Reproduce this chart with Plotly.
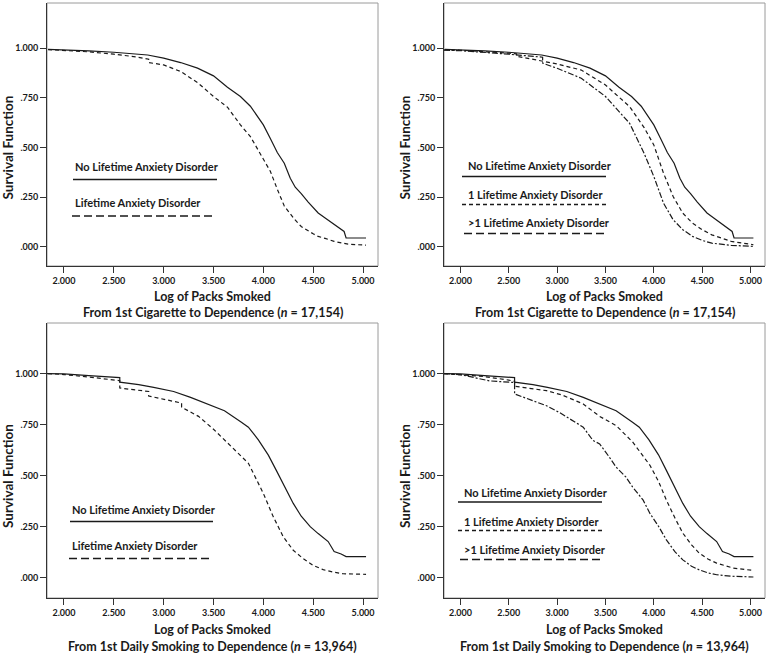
import plotly.graph_objects as go

# ---------------- data ----------------
X_TICKS = [2.0, 2.5, 3.0, 3.5, 4.0, 4.5, 5.0]
X_LABELS = ["2.000", "2.500", "3.000", "3.500", "4.000", "4.500", "5.000"]
Y_TICKS = [0.0, 0.25, 0.5, 0.75, 1.0]
Y_LABELS = [".000", ".250", ".500", ".750", "1.000"]

# Panel 1: from 1st cigarette, two groups
P1_none_x = [1.84, 2.0, 2.25, 2.5, 2.75, 2.84, 3.0, 3.17, 3.34, 3.5, 3.64, 3.77, 3.87, 4.0, 4.07, 4.14, 4.21, 4.27, 4.32, 4.38, 4.45, 4.55, 4.62, 4.71, 4.81, 4.83, 5.03]
P1_none_y = [0.994, 0.992, 0.987, 0.980, 0.970, 0.966, 0.950, 0.928, 0.900, 0.861, 0.804, 0.757, 0.708, 0.614, 0.545, 0.475, 0.421, 0.345, 0.300, 0.268, 0.225, 0.170, 0.145, 0.111, 0.077, 0.044, 0.044]
P1_anx_x = [1.84, 2.0, 2.25, 2.5, 2.7, 2.85, 2.85, 3.0, 3.17, 3.34, 3.5, 3.64, 3.77, 3.87, 4.0, 4.07, 4.14, 4.21, 4.31, 4.38, 4.5, 4.55, 4.62, 4.71, 4.85, 5.03]
P1_anx_y = [0.993, 0.988, 0.982, 0.970, 0.958, 0.945, 0.928, 0.916, 0.883, 0.827, 0.757, 0.703, 0.614, 0.555, 0.440, 0.380, 0.290, 0.205, 0.140, 0.102, 0.065, 0.052, 0.042, 0.027, 0.013, 0.008]

# Panel 2: from 1st cigarette, three groups
P2_none_x = P1_none_x
P2_none_y = P1_none_y
P2_one_x = [1.83, 2.0, 2.5, 2.58, 2.58, 2.75, 3.0, 3.25, 3.5, 3.75, 3.9, 4.0, 4.1, 4.2, 4.3, 4.4, 4.5, 4.6, 4.7, 4.8, 5.03]
P2_one_y = [0.992, 0.990, 0.975, 0.972, 0.960, 0.945, 0.921, 0.890, 0.815, 0.706, 0.600, 0.513, 0.371, 0.253, 0.169, 0.119, 0.086, 0.060, 0.044, 0.027, 0.010]
P2_multi_x = [1.83, 2.0, 2.5, 2.85, 2.85, 3.0, 3.25, 3.5, 3.75, 3.9, 4.0, 4.1, 4.2, 4.3, 4.4, 4.5, 4.6, 4.8, 5.03]
P2_multi_y = [0.990, 0.988, 0.970, 0.955, 0.925, 0.899, 0.849, 0.757, 0.622, 0.470, 0.354, 0.220, 0.136, 0.086, 0.052, 0.032, 0.018, 0.007, 0.002]

# Panel 4: from 1st daily smoking, three groups
P4_none_x = [1.83, 2.0, 2.25, 2.5, 2.56, 2.56, 2.75, 2.9, 3.1, 3.27, 3.45, 3.61, 3.78, 3.85, 3.95, 4.05, 4.13, 4.22, 4.30, 4.38, 4.47, 4.55, 4.65, 4.71, 4.78, 4.83, 5.03]
P4_none_y = [1.0, 0.998, 0.990, 0.982, 0.980, 0.958, 0.946, 0.932, 0.912, 0.883, 0.850, 0.818, 0.761, 0.737, 0.675, 0.600, 0.525, 0.440, 0.363, 0.300, 0.249, 0.215, 0.176, 0.127, 0.115, 0.102, 0.102]
P4_one_x = [1.83, 2.0, 2.25, 2.5, 2.56, 2.56, 2.75, 2.89, 3.05, 3.27, 3.44, 3.61, 3.78, 3.87, 3.96, 4.05, 4.13, 4.22, 4.30, 4.39, 4.47, 4.56, 4.65, 4.82, 5.03]
P4_one_y = [1.0, 0.995, 0.985, 0.968, 0.962, 0.938, 0.925, 0.916, 0.895, 0.851, 0.790, 0.745, 0.665, 0.610, 0.550, 0.470, 0.379, 0.290, 0.217, 0.160, 0.119, 0.090, 0.070, 0.046, 0.034]
P4_multi_x = [1.83, 2.0, 2.3, 2.5, 2.56, 2.56, 2.75, 2.89, 3.02, 3.27, 3.37, 3.44, 3.54, 3.61, 3.71, 3.78, 3.89, 3.96, 4.05, 4.13, 4.22, 4.30, 4.39, 4.47, 4.56, 4.65, 4.8, 5.03]
P4_multi_y = [1.0, 0.995, 0.964, 0.958, 0.956, 0.900, 0.867, 0.842, 0.810, 0.737, 0.672, 0.655, 0.590, 0.541, 0.493, 0.444, 0.379, 0.314, 0.250, 0.184, 0.125, 0.086, 0.055, 0.037, 0.022, 0.013, 0.006, 0.002]

# Panel 3: from 1st daily smoking, two groups
P3_none_x = P4_none_x
P3_none_y = P4_none_y
P3_anx_x = [1.84, 2.0, 2.25, 2.5, 2.56, 2.56, 2.75, 2.85, 2.85, 3.0, 3.18, 3.18, 3.35, 3.5, 3.75, 3.85, 4.0, 4.1, 4.2, 4.3, 4.4, 4.5, 4.6, 4.7, 4.8, 5.03]
P3_anx_y = [1.0, 0.995, 0.983, 0.968, 0.965, 0.929, 0.918, 0.912, 0.890, 0.874, 0.855, 0.835, 0.790, 0.727, 0.609, 0.560, 0.412, 0.297, 0.199, 0.133, 0.092, 0.059, 0.038, 0.026, 0.018, 0.015]

LEG_TWO = ["No Lifetime Anxiety Disorder", "Lifetime Anxiety Disorder"]
LEG_THREE = ["No Lifetime Anxiety Disorder", "1 Lifetime Anxiety Disorder", ">1 Lifetime Anxiety Disorder"]
TITLE_LINE1 = "Log of Packs Smoked"
TITLE_TOP = "From 1st Cigarette to Dependence (<i>n</i> = 17,154)"
TITLE_BOTTOM = "From 1st Daily Smoking to Dependence (<i>n</i> = 13,964)"
Y_TITLE = "Survival Function"

# ---------------- layout helpers ----------------
W, H = 771, 654
FONT = "Lato"
INK = "#1a1a1a"


def fx(p):
    return p / W


def fy(p):
    return 1 - p / H


fig = go.Figure()

# panel geometry in pixels: (left, right, top, bottom, yrange)
panels = {
    1: (47, 378, 3, 266, [-0.097, 1.228]),
    2: (444, 765, 3, 266, [-0.097, 1.228]),
    3: (47, 378, 323, 598, [-0.101, 1.248]),
    4: (444, 765, 323, 598, [-0.101, 1.248]),
}

SOLID = dict(color=INK, width=1.2)
DASH = dict(color=INK, width=1.2, dash="4px,3px")
DASHDOT = dict(color=INK, width=1.2, dash="6px,2px,2px,2px")

series = {
    1: [(P1_none_x, P1_none_y, SOLID, LEG_TWO[0]), (P1_anx_x, P1_anx_y, DASH, LEG_TWO[1])],
    2: [(P2_none_x, P2_none_y, SOLID, LEG_THREE[0]), (P2_one_x, P2_one_y, DASH, LEG_THREE[1]),
        (P2_multi_x, P2_multi_y, DASHDOT, LEG_THREE[2])],
    3: [(P3_none_x, P3_none_y, SOLID, LEG_TWO[0]), (P3_anx_x, P3_anx_y, DASH, LEG_TWO[1])],
    4: [(P4_none_x, P4_none_y, SOLID, LEG_THREE[0]), (P4_one_x, P4_one_y, DASH, LEG_THREE[1]),
        (P4_multi_x, P4_multi_y, DASHDOT, LEG_THREE[2])],
}

annotations = []
shapes = []

for k, (l, r, t, b, yr) in panels.items():
    sfx = "" if k == 1 else str(k)
    for xs, ys, ln, nm in series[k]:
        fig.add_trace(go.Scatter(x=xs, y=ys, mode="lines", line=ln, name=nm,
                                 showlegend=False, xaxis="x" + sfx, yaxis="y" + sfx,
                                 hoverinfo="skip"))
    common = dict(showgrid=False, zeroline=False, showline=True, linecolor="#333",
                  linewidth=1, ticks="outside", ticklen=6, tickwidth=1, tickcolor="#333",
                  tickfont=dict(family=FONT, size=9, color=INK, weight="bold"))
    fig.update_layout(**{
        "xaxis" + sfx: dict(domain=[fx(l), fx(r)], range=[1.83, 5.15], anchor="y" + sfx,
                            tickvals=X_TICKS, ticktext=X_LABELS, fixedrange=True, **common),
        "yaxis" + sfx: dict(domain=[fy(b), fy(t)], range=yr, anchor="x" + sfx,
                            tickvals=Y_TICKS, ticktext=Y_LABELS, fixedrange=True, **common),
    })
    # grey frame
    shapes.append(dict(type="rect", xref="x" + sfx + " domain", yref="y" + sfx + " domain",
                       x0=0, x1=1, y0=0, y1=1, line=dict(color="#9a9a9a", width=1), layer="below"))
    # titles
    top = k in (1, 2)
    cx = (l + r) / 2
    base = 296 if top else 629.5
    annotations.append(dict(text=TITLE_LINE1, x=fx(cx), y=fy(base), xref="paper", yref="paper",
                            showarrow=False, xanchor="center", yanchor="middle",
                            font=dict(family=FONT, size=12.5, color=INK, weight="bold")))
    annotations.append(dict(text=TITLE_TOP if top else TITLE_BOTTOM, x=fx(cx), y=fy(base + 16.5),
                            xref="paper", yref="paper", showarrow=False, xanchor="center",
                            yanchor="middle",
                            font=dict(family=FONT, size=12.5, color=INK, weight="bold")))
    ycx = 8 if k in (1, 3) else 405
    ycy = 147.5 if top else 476
    annotations.append(dict(text=Y_TITLE, x=fx(ycx), y=fy(ycy), xref="paper", yref="paper",
                            showarrow=False, textangle=-90, xanchor="center", yanchor="middle",
                            font=dict(family=FONT, size=13.5, color=INK, weight="bold")))

# ---------------- in-plot legends ----------------
LEG_FONT = dict(family=FONT, size=11, color=INK, weight="bold")


def legend_item(text, tx, ty, lx0, lx1, ly, dash):
    annotations.append(dict(text=text, x=fx(tx), y=fy(ty), xref="paper", yref="paper",
                            showarrow=False, xanchor="left", yanchor="middle", font=LEG_FONT))
    shapes.append(dict(type="line", xref="paper", yref="paper", x0=fx(lx0), x1=fx(lx1),
                       y0=fy(ly), y1=fy(ly), line=dict(color=INK, width=1.3, dash=dash)))


# panel 1
legend_item(LEG_TWO[0], 73, 166.5, 73, 217, 179.5, "solid")
legend_item(LEG_TWO[1], 73, 202, 72, 215, 216, "8px,4px")
# panel 3
legend_item(LEG_TWO[0], 70, 509, 70, 213, 521.5, "solid")
legend_item(LEG_TWO[1], 70, 545.5, 69, 212, 558.5, "8px,4px")
# panel 2
legend_item(LEG_THREE[0], 466, 165.5, 462, 606, 176.5, "solid")
legend_item(LEG_THREE[1], 466, 194.5, 462, 606, 204.5, "4px,3px")
legend_item(LEG_THREE[2], 466, 222.5, 464, 606, 233.5, "8px,4px")
# panel 4
legend_item(LEG_THREE[0], 462, 492.5, 458, 602, 502, "solid")
legend_item(LEG_THREE[1], 462, 521, 458, 602, 530.5, "4px,3px")
legend_item(LEG_THREE[2], 462, 549.5, 460, 602, 559.5, "8px,4px")

fig.update_layout(width=W, height=H, margin=dict(l=0, r=0, t=0, b=0),
                  paper_bgcolor="white", plot_bgcolor="white",
                  annotations=annotations, shapes=shapes, showlegend=False)

fig.write_html("out.html", config={"displayModeBar": False},
               post_script="document.body.style.margin='0';document.body.style.overflow='hidden';")
